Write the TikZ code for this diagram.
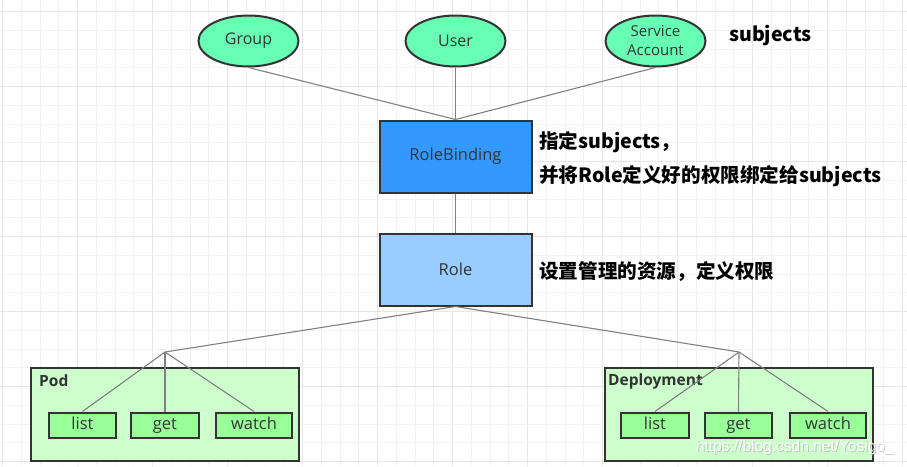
\documentclass[tikz,border=0pt]{standalone}
\usepackage{fontspec}
\setmainfont{Open Sans}
\newfontfamily\cjk{Noto Sans CJK SC}
\newfontfamily\wmfont{Liberation Sans}
\usetikzlibrary{shapes.geometric}
\definecolor{gridminor}{HTML}{F2F2F2}
\definecolor{gridmajor}{HTML}{E6E6E6}
\definecolor{subjfill}{HTML}{66FFB3}
\definecolor{rbfill}{HTML}{3399FF}
\definecolor{rolefill}{HTML}{99CCFF}
\definecolor{contfill}{HTML}{CCFFCC}
\definecolor{verbfill}{HTML}{99FF99}
\definecolor{edge}{HTML}{333333}
\definecolor{conn}{HTML}{808080}
\definecolor{txt}{HTML}{333333}
\tikzset{
  subj/.style={ellipse, draw=edge, line width=2pt, fill=subjfill, minimum width=100pt, minimum height=51pt, inner sep=0pt, text=txt, font=\fontsize{16}{17}\selectfont},
  rolebox/.style={rectangle, draw=edge, line width=2pt, minimum width=152pt, minimum height=72pt, inner sep=0pt, text=txt, font=\fontsize{16.5}{18}\selectfont},
  cont/.style={rectangle, draw=edge, line width=2pt, fill=contfill, minimum width=268pt, minimum height=93pt, inner sep=0pt},
  verb/.style={rectangle, draw=edge, line width=2pt, fill=verbfill, minimum height=25pt, inner sep=0pt, text height=11pt, text depth=3pt, text=txt, font=\fontsize{16.5}{18}\selectfont},
  conn/.style={draw=conn, line width=1.1pt},
  note/.style={anchor=west, inner sep=0pt, font=\cjk\bfseries\fontsize{19.6}{22}\selectfont, text=black},
  contlabel/.style={anchor=west, inner sep=0pt, font=\bfseries\fontsize{15.5}{17}\selectfont, text=txt},
  wmark/.style={anchor=west, inner sep=0pt, font=\wmfont\fontsize{15.5}{17}\selectfont}
}
\begin{document}
\begin{tikzpicture}[x=1pt,y=-1pt]
\useasboundingbox (0,0) rectangle (907,466);
\fill[white] (0,0) rectangle (907,466);
% grid
\foreach \i in {0,...,48} {
  \pgfmathsetmacro{\xx}{2.7+\i*18.75}
  \pgfmathtruncatemacro{\m}{mod(\i,4)}
  \ifnum\m=0 \draw[gridmajor,line width=1pt] (\xx,0) -- (\xx,466);
  \else \draw[gridminor,line width=1pt] (\xx,0) -- (\xx,466); \fi
}
\foreach \j in {0,...,24} {
  \pgfmathsetmacro{\yy}{11.7+\j*18.75}
  \pgfmathtruncatemacro{\m}{mod(\j,4)}
  \ifnum\m=0 \draw[gridmajor,line width=1pt] (0,\yy) -- (907,\yy);
  \else \draw[gridminor,line width=1pt] (0,\yy) -- (907,\yy); \fi
}
% containers
\node[cont] (pod) at (164.5,414) {};
\node[cont] (dep) at (738.5,414) {};
\node[contlabel] (podlabel) at (39,381) {Pod};
\node[contlabel] (deplabel) at (608,381) {Deployment};
% subjects
\node[subj] (group) at (248.5,41) {Group};
\node[subj] (user) at (455.5,41) {User};
\node[subj, align=center, font=\fontsize{15}{19}\selectfont] (sa) at (655.5,41) {Service\\Account};
\node[note] (subjtxt) at (729,36) {subjects};
% rolebinding, role
\node[rolebox, fill=rbfill] (rb) at (455.5,156.5) {RoleBinding};
\node[rolebox, fill=rolefill] (role) at (455.5,269.5) {Role};
\node[note] (rbtxt1) at (539,142) {指定subjects，};
\node[note] (rbtxt2) at (539,176) {并将Role定义好的权限绑定给subjects};
\node[note] (roletxt) at (539,272) {设置管理的资源，定义权限};
% verbs
\node[verb, minimum width=67pt] (plist) at (82.5,425) {list};
\node[verb, minimum width=68pt] (pget) at (165,425) {get};
\node[verb, minimum width=76pt] (pwatch) at (254,425) {watch};
\node[verb, minimum width=68pt] (dlist) at (655,425) {list};
\node[verb, minimum width=67pt] (dget) at (738.5,425) {get};
\node[verb, minimum width=76pt] (dwatch) at (828,425) {watch};
% junctions
\coordinate (jl) at (165,352);
\coordinate (jr) at (739,352);
% connectors
\draw[conn] (group.south) -- (rb.north);
\draw[conn] (user.south) -- (rb.north);
\draw[conn] (sa.south) -- (rb.north);
\draw[conn] (rb.south) -- (role.north);
\draw[conn] (role.south) -- (jl);
\draw[conn] (role.south) -- (jr);
\draw[conn] (jl) -- (plist.north);
\draw[conn] (jl) -- (pget.north);
\draw[conn] (jl) -- (pwatch.north);
\draw[conn] (jr) -- (dlist.north);
\draw[conn] (jr) -- (dget.north);
\draw[conn] (jr) -- (dwatch.north);
% watermark
\node[wmark, text=gray!70, opacity=0.6] (wmshadow) at (696.8,448) {https://blog.csdn.net/Yosigo\_};
\node[wmark, text=white] (wm) at (695.8,447) {https://blog.csdn.net/Yosigo\_};
\end{tikzpicture}
\end{document}
